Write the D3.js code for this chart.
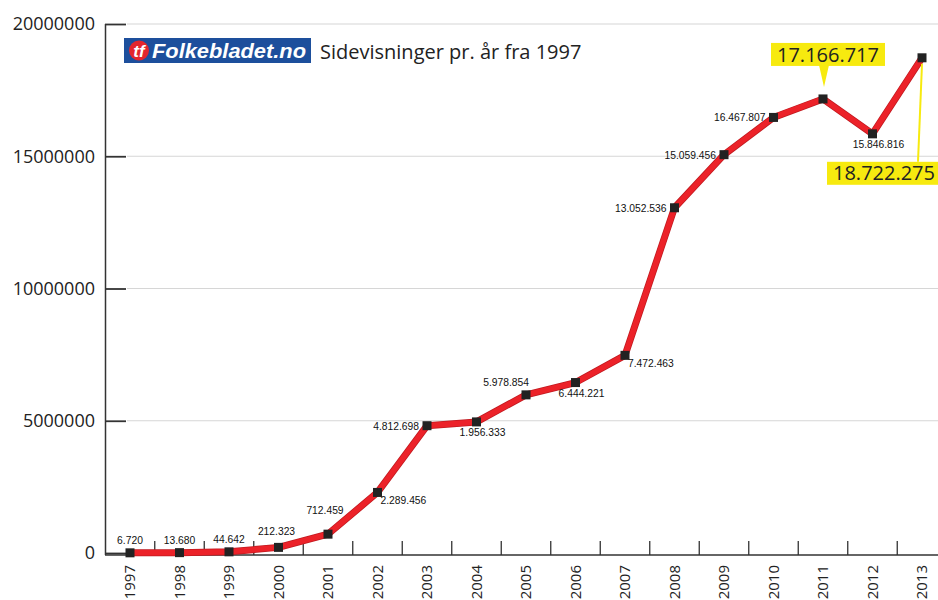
<!DOCTYPE html>
<html>
<head>
<meta charset="utf-8">
<script src="https://cdn.jsdelivr.net/npm/d3@7"></script>
<style>
body { margin: 0; background: #fff; }
svg { display: block; }
</style>
</head>
<body>
<div id="chart"></div>
<script>
'use strict'

// page views per year
var years = ['1997', '1998', '1999', '2000', '2001', '2002', '2003', '2004', '2005',
    '2006', '2007', '2008', '2009', '2010', '2011', '2012', '2013'];
var views = [6720, 13680, 44642, 212323, 712459, 2289456, 4812698, 4956333, 5978854,
    6444221, 7472463, 13052536, 15059456, 16467807, 17166717, 15846816, 18722275];
// printed labels as they stand in the picture (2004 is printed 1.956.333)
var labels = ['6.720', '13.680', '44.642', '212.323', '712.459', '2.289.456', '4.812.698',
    '1.956.333', '5.978.854', '6.444.221', '7.472.463', '13.052.536', '15.059.456',
    '16.467.807', '17.166.717', '15.846.816', '18.722.275'];
var labelKind = ['above', 'above', 'above', 'aboveMid', 'aboveHigh', 'belowRight', 'left', 'below',
    'aboveLeft', 'below', 'belowRight', 'left', 'left', 'left', 'calloutUp', 'below', 'calloutDown'];
var yTicks = [0, 5000000, 10000000, 15000000, 20000000];

var width = 938;
var height = 600;

var placement = {
    above: { anchor: 'middle', dx: 0, dy: -9 },
    aboveMid: { anchor: 'middle', dx: -2, dy: -12 },
    aboveHigh: { anchor: 'middle', dx: -3, dy: -20 },
    aboveLeft: { anchor: 'end', dx: 3, dy: -9 },
    belowRight: { anchor: 'start', dx: 3, dy: 12 },
    below: { anchor: 'middle', dx: 6, dy: 14 },
    left: { anchor: 'end', dx: -8, dy: 4 }
};

var svg = d3.select('#chart').append('svg')
    .attr('width', width).attr('height', height);

var x = d3.scalePoint().domain(years).range([130, 922]);
var y = d3.scaleLinear().domain([0, 20000000]).range([553, 24]);
var step = x.step();

// grid lines
svg.append('g').selectAll('line').data(yTicks.slice(1)).enter().append('line')
    .attr('x1', 127).attr('x2', width)
    .attr('y1', function(d) { return y(d); })
    .attr('y2', function(d) { return y(d); })
    .style('stroke', '#d6d6d6').style('stroke-width', 1.2);

// y axis, ticks pointing into the plot
var yAxis = d3.axisLeft(y).tickValues(yTicks).tickSizeInner(-21).tickSizeOuter(0)
    .tickPadding(10).tickFormat(d3.format('d'));
var gy = svg.append('g').attr('transform', 'translate(105,0)').call(yAxis);
gy.select('.domain').attr('d', 'M0.5,' + y(20000000) + 'V' + (y(0) + 2))
    .style('stroke', '#333').style('stroke-width', 1.5);
gy.selectAll('.tick line').style('stroke', '#333').style('stroke-width', 1.8);
gy.selectAll('.tick text').style('font-family', '"Open Sans", sans-serif')
    .style('font-size', '18px').style('fill', '#222');

// x axis
var baseY = y(0) + 2;
svg.append('line').attr('x1', 105).attr('x2', width).attr('y1', baseY).attr('y2', baseY)
    .style('stroke', '#333').style('stroke-width', 1.5);
svg.append('g').selectAll('line').data(years.slice(0, -1)).enter().append('line')
    .attr('x1', function(d) { return x(d) + step / 2; })
    .attr('x2', function(d) { return x(d) + step / 2; })
    .attr('y1', baseY).attr('y2', baseY - 14)
    .style('stroke', '#333').style('stroke-width', 1.3);
svg.append('g').selectAll('text').data(years).enter().append('text')
    .attr('transform', function(d) { return 'translate(' + x(d) + ',' + baseY + ') rotate(-90)'; })
    .attr('x', -10).attr('dy', '0.36em')
    .attr('text-anchor', 'end')
    .style('font-family', '"Open Sans", sans-serif').style('font-size', '15px').style('fill', '#222')
    .text(function(d) { return d; });

// series
var pts = years.map(function(yr, i) {
    return { year: yr, v: views[i], label: labels[i], kind: labelKind[i], px: x(yr), py: y(views[i]) };
});
var line = d3.line().x(function(d) { return d.px; }).y(function(d) { return d.py; });
svg.append('path').datum(pts).attr('d', line)
    .style('fill', 'none').style('stroke', '#c01a20').style('stroke-width', 7)
    .style('stroke-linejoin', 'round');
svg.append('path').datum(pts).attr('d', line)
    .style('fill', 'none').style('stroke', '#ec2229').style('stroke-width', 5.5)
    .style('stroke-linejoin', 'round');
svg.append('g').selectAll('rect').data(pts).enter().append('rect')
    .attr('x', function(d) { return d.px - 4.5; })
    .attr('y', function(d) { return d.py - 4.5; })
    .attr('width', 9).attr('height', 9)
    .style('fill', '#222');

// small value labels
svg.append('g').selectAll('text').data(pts.filter(function(d) { return placement[d.kind]; }))
    .enter().append('text')
    .attr('x', function(d) { return d.px + placement[d.kind].dx; })
    .attr('y', function(d) { return d.py + placement[d.kind].dy; })
    .attr('text-anchor', function(d) { return placement[d.kind].anchor; })
    .style('font-family', '"Liberation Sans", Arial, sans-serif').style('font-size', '10.3px')
    .style('fill', '#111')
    .text(function(d) { return d.label; });

// yellow callouts
var yellow = '#f7ea0f';
pts.filter(function(d) { return d.kind.indexOf('callout') == 0; }).forEach(function(d) {
    var g = svg.append('g');
    var t = g.append('text')
        .style('font-family', '"Open Sans", sans-serif').style('font-size', '20px')
        .style('fill', '#222').attr('text-anchor', 'middle')
        .text(d.label);
    var bw = t.node().getBBox().width + 12;
    var bh = 23;
    var cx, top;
    if (d.kind == 'calloutUp') {
        cx = d.px + 5;
        top = d.py - 56;
        g.insert('path', 'text')
            .attr('d', 'M' + (d.px - 4) + ',' + (top + bh - 1) + 'L' + (d.px + 6) + ',' + (top + bh - 1) +
                'L' + (d.px + 1) + ',' + (d.py - 12) + 'Z')
            .style('fill', yellow);
    } else {
        cx = d.px - 95 + bw / 2;
        top = d.py + 104;
        g.insert('line', 'text')
            .attr('x1', d.px).attr('y1', d.py + 6).attr('x2', d.px - 4).attr('y2', top)
            .style('stroke', yellow).style('stroke-width', 2);
    }
    g.insert('rect', 'text')
        .attr('x', cx - bw / 2).attr('y', top).attr('width', bw).attr('height', bh)
        .style('fill', yellow);
    t.attr('x', cx).attr('y', top + bh / 2).attr('dy', '0.36em');
});

// header: logo and title
var logo = svg.append('g').attr('transform', 'translate(124,38)');
logo.append('rect').attr('width', 187).attr('height', 25).style('fill', '#1d4f9c');
logo.append('circle').attr('cx', 15).attr('cy', 12.5).attr('r', 10).style('fill', '#e3262d');
logo.append('text').attr('x', 15).attr('y', 19).attr('text-anchor', 'middle')
    .style('font-family', '"Liberation Sans", Arial, sans-serif').style('font-weight', 'bold')
    .style('font-style', 'italic').style('font-size', '17px').style('fill', '#fff')
    .text('tf');
logo.append('text').attr('x', 28).attr('y', 20)
    .attr('textLength', 154).attr('lengthAdjust', 'spacingAndGlyphs')
    .style('font-family', '"Liberation Sans Narrow", "Liberation Sans", Arial, sans-serif')
    .style('font-weight', 'bold').style('font-style', 'italic').style('font-size', '21px')
    .style('fill', '#fff')
    .text('Folkebladet.no');
svg.append('text').attr('x', 320).attr('y', 59)
    .style('font-family', '"Open Sans", sans-serif').style('font-size', '20px').style('fill', '#222')
    .text('Sidevisninger pr. år fra 1997');
</script>
</body>
</html>
